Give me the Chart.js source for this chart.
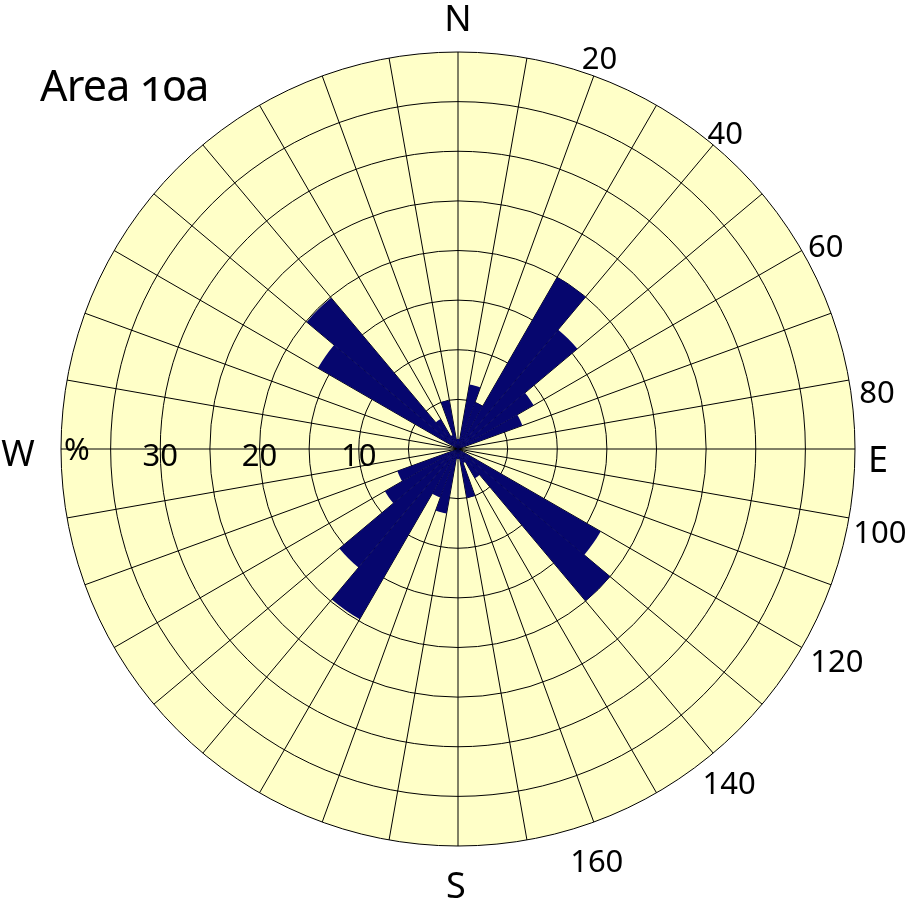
<!DOCTYPE html>
<html>
<head>
<meta charset="utf-8">
<script src="https://cdn.jsdelivr.net/npm/chart.js@4.4.1/dist/chart.umd.min.js"></script>
<style>
  html, body { margin: 0; padding: 0; background: #fff; }
  #wrap { position: relative; width: 906px; height: 904px; }
  #title {
    position: absolute; left: 40px; top: 55px;
    font-family: "Noto Sans", sans-serif; font-size: 43px; letter-spacing: -0.8px;
    font-variant-numeric: oldstyle-nums; color: #000; white-space: nowrap;
  }
</style>
</head>
<body>
<div id="wrap">
  <canvas id="rose" width="906" height="904"></canvas>
  <div id="title">Area 10a</div>
</div>
<script>
// 10-degree bins, clockwise from north
const binStarts = [0, 10, 20, 30, 40, 50, 60, 70, 80, 90, 100, 110, 120, 130, 140, 150, 160, 170,
  180, 190, 200, 210, 220, 230, 240, 250, 260, 270, 280, 290, 300, 310, 320, 330, 340, 350];

// frequency per bin, %
const freqPct = [1.0, 6.6, 5.0, 20.0, 15.7, 8.8, 6.9, 0, 0, 0, 0, 0, 16.6, 20.0, 3.4, 1.5, 5.0, 1.0,
  1.0, 6.6, 5.2, 19.8, 15.6, 8.5, 6.5, 0, 0, 0, 0, 0, 16.3, 19.9, 3.5, 1.5, 5.0, 1.0];

const ringLabels = [10, 20, 30];
const degreeLabels = [20, 40, 60, 80, 100, 120, 140, 160];
const compassLabels = ["N", "E", "S", "W"];

// label placement (layout only): bearing of text centre and its distance from the rose centre
const degreeLabelBearing = [19.9, 40.2, 61.1, 82.2, 101.1, 119.2, 140.9, 161.4];
const degreeLabelDist = [416, 414, 420, 423, 430, 434, 430, 435];
// where the compass letters sit, relative to the rose centre (px)
const compassOffset = { N: [0, -431], E: [420, 10], S: [-2, 436], W: [-440, 4] };

const roseText = {
  id: "roseText",
  afterDraw(chart) {
    const r = chart.scales.r;
    const ctx = chart.ctx;
    const cx = r.xCenter, cy = r.yCenter;
    const k = r.drawingArea / 397;
    ctx.save();
    ctx.fillStyle = "#000";
    ctx.textAlign = "center";
    ctx.textBaseline = "alphabetic";

    // % scale along the west axis
    ctx.font = '31px "Noto Sans"';
    for (const v of ringLabels) {
      const d = r.getDistanceFromCenterForValue(v);
      ctx.fillText(String(v), cx - d, cy + 16.5);
    }
    ctx.fillText("%", cx - r.drawingArea + 16, cy + 10.5);

    // bearing labels round the east half
    degreeLabels.forEach((a, i) => {
      const t = degreeLabelBearing[i] * Math.PI / 180;
      const d = degreeLabelDist[i] * k;
      ctx.fillText(String(a), cx + d * Math.sin(t), cy - d * Math.cos(t) + 11);
    });

    ctx.font = '36px "Noto Sans"';
    for (const c of compassLabels) {
      const [dx, dy] = compassOffset[c];
      ctx.fillText(c, cx + dx, cy + dy + 13);
    }
    ctx.restore();
  }
};

new Chart(document.getElementById("rose"), {
  type: "polarArea",
  data: {
    labels: binStarts.map(b => `${b}-${b + 10}`),
    datasets: [{
      data: freqPct,
      backgroundColor: "#06066e",
      borderWidth: 0,
    }],
  },
  options: {
    responsive: false,
    animation: false,
    devicePixelRatio: 1,
    layout: { padding: { left: 61, right: 51, top: 52, bottom: 58 } },
    plugins: {
      legend: { display: false },
      tooltip: { enabled: false },
    },
    scales: {
      r: {
        min: 0,
        max: 40,
        startAngle: 0,
        backgroundColor: "#ffffc8",
        ticks: { display: false, stepSize: 5 },
        grid: { circular: true, color: "#000", lineWidth: 1 },
        angleLines: { display: true, color: "#000", lineWidth: 1 },
        pointLabels: { display: false },
      },
    },
  },
  plugins: [roseText],
});
</script>
</body>
</html>
